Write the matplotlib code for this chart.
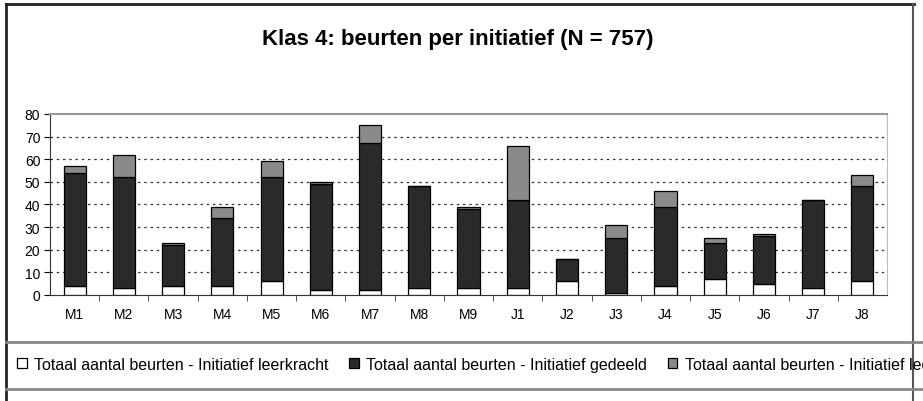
import matplotlib.pyplot as plt
import numpy as np
from matplotlib.lines import Line2D

plt.rcParams['font.family'] = ['Liberation Sans', 'DejaVu Sans']

labels = ['M1', 'M2', 'M3', 'M4', 'M5', 'M6', 'M7', 'M8', 'M9',
          'J1', 'J2', 'J3', 'J4', 'J5', 'J6', 'J7', 'J8']
leerkracht = [4, 3, 4, 4, 6, 2, 2, 3, 3, 3, 6, 1, 4, 7, 5, 3, 6]
gedeeld = [50, 49, 18, 30, 46, 47, 65, 45, 35, 39, 10, 24, 35, 16, 21, 39, 42]
leerling = [3, 10, 1, 5, 7, 1, 8, 0, 1, 24, 0, 6, 7, 2, 1, 0, 5]

series_names = ['Totaal aantal beurten - Initiatief leerkracht',
                'Totaal aantal beurten - Initiatief gedeeld',
                'Totaal aantal beurten - Initiatief leerling']

fig = plt.figure(figsize=(9.23, 4.02), dpi=100)
ax = fig.add_axes([0.0542, 0.2637, 0.9068, 0.4503])

x = np.arange(len(labels))
w = 0.45
b1 = ax.bar(x, leerkracht, w, color='white', edgecolor='black', linewidth=0.9)
b2 = ax.bar(x, gedeeld, w, bottom=leerkracht, color='#2a2a2a',
            edgecolor='black', linewidth=0.9)
bottom3 = np.array(leerkracht) + np.array(gedeeld)
b3 = ax.bar(x, leerling, w, bottom=bottom3, color='#8a8a8a',
            edgecolor='black', linewidth=0.9)

ax.set_xlim(-0.5, len(labels) - 0.5)
ax.set_ylim(0, 80)
ax.set_yticks(range(0, 81, 10))
ax.set_xticks(x)
ax.set_xticklabels(labels)
ax.set_xticks(np.arange(0.5, len(labels) - 0.5, 1), minor=True)
ax.tick_params(axis='x', which='major', length=0, pad=9, labelsize=10)
ax.tick_params(axis='x', which='minor', length=4, direction='out', color='#333333')
ax.tick_params(axis='y', length=4, direction='out', labelsize=10, pad=3)

for v in range(10, 80, 10):
    ax.axhline(v, color='#333333', linestyle=(0, (2, 3)), linewidth=0.9, zorder=0)

ax.spines['top'].set_color('#999999')
ax.spines['top'].set_linewidth(1.5)
ax.spines['right'].set_color('#bbbbbb')
ax.spines['left'].set_color('#333333')
ax.spines['bottom'].set_color('#333333')
ax.set_axisbelow(True)

fig.text(0.496, 0.902, 'Klas 4: beurten per initiatief (N = 757)',
         ha='center', va='center', fontsize=16, fontweight='bold')

leg = fig.legend([b1, b2, b3], series_names, loc='center left',
                 bbox_to_anchor=(0.012, 0.092), ncol=3, frameon=False,
                 fontsize=11.5, handlelength=0.6, handleheight=0.6,
                 handletextpad=0.45, columnspacing=1.3, borderaxespad=0)

# frame lines round the chart and legend strip
frame = [
    ([0.007, 0.007], [0.0, 0.988], '#222222', 2.0),
    ([0.007, 0.99], [0.988, 0.988], '#222222', 2.0),
    ([0.989, 0.989], [0.0, 0.988], '#555555', 1.5),
    ([0.007, 1.0], [0.147, 0.147], '#888888', 2.0),
    ([0.007, 1.0], [0.030, 0.030], '#888888', 2.0),
]
for xs, ys, c, lw in frame:
    fig.add_artist(Line2D(xs, ys, color=c, linewidth=lw, transform=fig.transFigure))

fig.savefig('out.png', dpi=100)
